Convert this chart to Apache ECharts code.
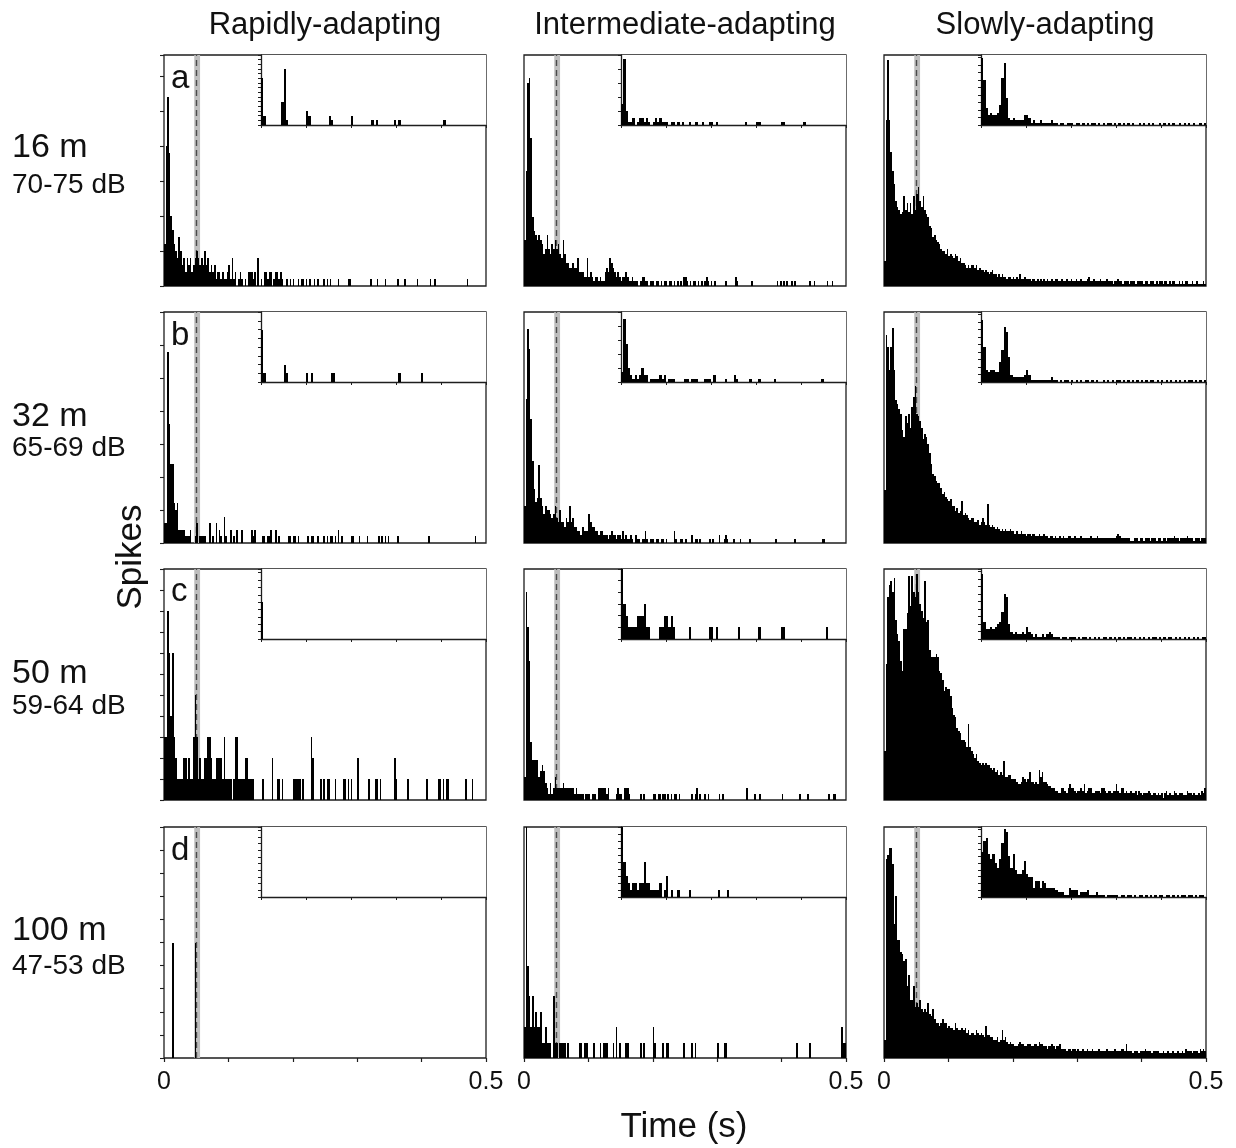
<!DOCTYPE html>
<html>
<head>
<meta charset="utf-8">
<script src="https://cdn.jsdelivr.net/npm/echarts@6/dist/echarts.min.js"></script>
<style>
  html, body { margin: 0; padding: 0; background: #fff; }
  #chart { width: 1236px; height: 1148px; }
</style>
</head>
<body>
<div id="chart"></div>
<script>
// Peri-stimulus time histograms: 3 adaptation classes x 4 recording distances.
// Main panels use 2.5 ms bins over 0-0.5 s; insets use 5 ms bins over 0-0.5 s.
const MAIN_BIN = 0.0025;
const INSET_BIN = 0.005;

const columnTitles = ['Rapidly-adapting', 'Intermediate-adapting', 'Slowly-adapting'];
const rowDistances = ['16 m', '32 m', '50 m', '100 m'];
const rowLevels = ['70-75 dB', '65-69 dB', '59-64 dB', '47-53 dB'];
const panelLetters = ['a', 'b', 'c', 'd'];
const xTickLabels = ['0', '0.5'];
const axisTitleX = 'Time (s)';
const axisTitleY = 'Spikes';

// stimulus marker: shaded window and dashed onset line (s)
const stimBand = [0.047, 0.056];
const stimLine = 0.0518;

// ---- row a (16 m) ----
const aRapid = [
  6,20,27,19,10,8,6,5,4,7, 5,3,4,2,4,3,4,2,3,4,
  5,4,3,4,3,5,3,4,2,3, 2,3,1,2,2,1,2,1,1,2,
  3,1,4,1,2,0,1,2,1,0, 1,0,2,2,2,1,2,0,4,0,
  1,0,2,2,1,2,2,0,1,2, 2,1,2,1,0,0,1,0,1,0,
  1,0,0,1,0,1,1,0,1,0, 1,0,0,1,0,1,0,0,0,1,
  0,1,0,1,0,0,0,0,1,0, 0,0,0,0,1,1,0,0,0,0,
  0,0,0,0,0,0,0,0,1,0, 0,0,1,0,0,0,0,1,0,0,
  0,0,0,0,0,1,0,0,0,1, 0,0,0,0,0,0,0,1,0,0,
  0,0,0,0,0,1,0,0,1,0, 0,0,0,0,0,0,0,0,0,0,
  0,0,0,0,0,0,0,0,1,0, 0,0,0,0,0,0,0,0,0,0
];
const aRapidInset = [[0,10],[1,2],[9,5],[10,12],[11,1],[20,3],[21,2],[30,2],[31,1],[40,2],[49,1],[51,1],[59,1],[61,1],[81,1]];
const aInter = [
  10,25,44,45,32,15,12,11,10,11, 10,9,7,8,11,8,7,9,8,10,
  8,9,7,6,10,7,5,5,4,4, 5,4,4,6,3,3,3,2,2,6,
  2,3,2,1,2,2,1,2,1,1, 3,4,3,6,5,4,3,2,3,2,
  1,2,2,3,2,1,1,2,1,1, 1,0,1,2,2,1,1,0,1,1,
  1,0,1,1,0,1,0,1,1,0, 1,1,0,1,0,1,0,1,0,2,
  2,1,0,1,0,1,1,0,1,0, 1,0,1,2,1,0,1,0,1,0,
  0,0,0,0,0,1,0,0,0,0, 0,2,1,0,0,0,0,0,0,0,
  0,1,0,0,0,0,0,0,0,0, 0,0,0,0,0,0,0,1,0,1,
  0,1,0,1,0,0,1,0,1,0, 0,0,0,0,0,0,0,1,0,0,
  1,0,0,0,0,0,0,0,1,0, 0,1,0,0,0,0,0,0,0,0
];
const aInterInset = [[0,6],[1,19],[2,4],[3,1],[4,1],[5,2],[7,1],[8,2],[9,2],[10,1],[11,2],[12,1],[14,1],[15,2],[16,1],[17,2],[18,1],[19,1],[20,1],[22,1],[23,1],[25,1],[27,1],[30,1],[33,1],[36,1],[39,1],[40,1],[42,1],[55,1],[60,1],[61,1],[71,1],[72,1],[81,1]];
const aSlow = [
  11,72,98,72,58,50,44,37,34,33, 31,32,39,33,36,32,36,31,39,33,
  40,43,37,34,39,33,31,30,26,25, 21,22,20,19,18,16,15,15,14,16,
  13,14,13,12,14,13,11,12,10,10, 9,8,9,8,9,9,8,9,7,8,
  7,7,6,7,6,5,6,7,5,5, 4,5,4,5,4,4,3,4,4,3,
  4,3,4,3,5,3,3,4,3,3, 3,2,3,3,2,3,2,3,2,3,
  2,3,2,2,3,2,3,3,2,2, 3,2,2,3,2,2,3,2,2,3,
  2,2,3,2,2,2,3,4,2,2, 3,2,2,2,3,2,2,2,3,2,
  2,2,1,2,2,3,2,2,1,2, 2,2,1,2,2,2,1,2,2,2,
  2,1,2,2,1,2,2,2,1,2, 1,2,2,1,2,2,1,2,1,2,
  2,1,1,2,1,2,1,2,2,1, 1,2,1,1,2,1,1,1,2,1
];
const aSlowInset = [
  27,18,7,4,5,4,4,5,8,19, 25,11,3,2,3,2,2,2,2,4,
  4,3,1,2,1,1,2,1,1,1, 1,2,1,1,0,1,1,0,1,1,
  1,0,1,1,0,1,0,1,0,1, 1,0,1,0,1,0,1,1,0,1,
  0,1,0,1,0,1,0,1,0,0, 1,0,1,0,1,0,1,0,0,1,
  0,1,0,1,0,1,0,0,1,0, 1,0,1,0,1,0,0,1,0,1
];

// ---- row b (32 m) ----
const bRapid = [
  3,3,29,18,12,12,6,5,6,2, 2,2,2,1,1,1,2,0,0,1,
  3,0,1,1,1,1,0,0,3,0, 1,0,3,0,2,1,0,4,1,0,
  0,2,0,1,0,2,0,0,2,0, 0,0,0,0,2,1,2,0,0,0,
  0,1,1,0,1,1,2,0,0,2, 0,1,0,0,0,0,0,1,1,0,
  1,1,0,1,0,0,0,0,0,1, 0,1,1,0,0,1,0,0,0,1,
  0,1,0,1,1,0,1,0,2,0, 1,0,0,0,0,0,1,1,0,0,
  0,1,0,0,0,0,1,0,0,0, 0,0,0,1,0,1,0,1,0,1,
  0,0,0,0,0,1,0,0,0,0, 0,0,0,0,0,0,0,0,0,0,
  0,0,0,0,1,0,0,0,0,0, 0,0,0,0,0,0,0,0,0,0,
  0,0,0,0,0,0,0,0,0,0, 0,0,0,1,0,0,0,0,0,0
];
const bRapidInset = [[0,6],[1,1],[10,2],[11,1],[20,1],[22,1],[31,1],[32,1],[61,1],[71,1]];
const bInter = [
  9,35,52,47,30,20,13,10,11,19, 11,9,7,9,8,8,7,6,7,9,
  6,5,8,5,5,4,6,5,9,5, 6,4,4,3,3,2,4,3,3,3,
  7,5,4,4,3,3,2,3,3,2, 2,2,1,2,3,2,2,1,2,2,
  1,3,1,2,1,1,2,1,0,2, 1,1,0,1,1,3,1,0,1,1,
  1,0,1,1,0,1,1,0,1,0, 0,0,0,3,1,0,0,1,1,0,
  1,0,0,0,2,0,1,1,0,1, 0,0,0,0,0,1,0,1,0,0,
  0,2,0,0,1,2,1,0,0,0, 1,0,0,0,1,0,0,0,0,0,
  1,0,0,0,0,0,0,0,0,0, 0,0,0,0,0,0,1,0,0,0,
  0,0,0,0,0,0,0,0,1,0, 0,0,0,0,0,0,0,0,0,0,
  0,0,0,0,0,1,1,0,0,0, 0,0,0,0,0,0,0,0,0,0
];
const bInterInset = [
  3,18,11,4,2,1,2,1,2,4, 2,2,0,1,1,1,1,2,1,2,
  0,1,1,1,0,0,0,0,1,1, 0,1,1,1,0,0,0,1,1,1,
  0,2,0,0,0,0,1,0,0,0, 2,1,0,0,0,0,0,1,0,0,
  0,1,0,0,0,0,0,0,1,0, 0,0,0,0,0,0,0,0,0,0,
  0,0,0,0,0,0,0,0,0,1, 0,0,0,0,0,0,0,0,0,0
];
const bSlow = [
  23,90,85,75,85,93,75,62,60,58, 56,49,46,55,52,56,50,59,63,68,
  56,55,53,50,45,47,46,43,39,34, 30,29,27,26,26,24,21,22,20,19,
  18,19,16,16,14,15,13,14,18,12, 13,12,11,10,11,11,9,9,10,8,
  9,11,9,8,17,8,7,8,7,6, 7,6,5,6,5,6,5,5,6,5,
  5,4,5,4,4,5,4,4,3,4, 4,3,4,4,3,3,4,3,3,4,
  3,3,2,3,3,2,3,2,2,3, 2,3,2,2,3,3,2,2,3,2,
  2,2,3,2,2,2,2,2,3,2, 2,2,3,2,2,2,2,2,2,2,
  2,2,2,2,3,4,3,2,2,2, 2,2,2,1,1,2,2,2,1,2,
  2,1,2,2,2,1,2,2,2,1, 2,2,1,2,2,1,2,2,2,2,
  3,2,2,1,2,2,2,2,3,2, 2,2,1,2,2,2,1,2,2,2
];
const bSlowInset = [
  25,14,5,4,5,5,4,4,8,13, 22,20,10,3,2,2,2,2,2,3,
  5,3,1,1,1,1,1,1,1,1, 1,2,1,1,0,1,0,1,1,0,
  1,0,1,0,1,0,1,1,0,1, 0,1,0,0,1,0,1,0,1,0,
  1,1,0,1,0,1,0,1,0,1, 0,1,0,1,0,1,1,0,1,0,
  1,0,1,0,1,0,1,0,1,0, 1,0,1,1,0,1,0,1,0,1
];

// ---- row c (50 m) ----
const cRapid = [
  3,3,9,7,4,7,3,2,1,1, 1,1,2,2,1,2,1,1,3,5,
  3,1,2,1,1,2,2,3,3,2, 1,1,2,2,2,2,1,3,1,1,
  1,1,0,1,3,3,1,1,1,1, 2,2,1,1,1,1,0,0,0,0,
  0,1,0,0,0,0,0,2,0,0, 1,1,0,1,0,0,0,0,0,0,
  1,1,1,1,1,0,1,0,0,0, 0,3,2,0,0,0,0,1,0,1,
  0,1,1,0,0,0,1,0,0,0, 0,1,1,0,1,0,1,0,0,0,
  2,0,0,0,0,0,0,1,0,0, 0,1,1,0,1,0,0,0,0,0,
  0,0,0,2,1,0,0,0,0,0, 0,1,0,0,0,0,0,0,0,0,
  0,0,0,1,0,0,0,0,0,0, 1,1,0,1,0,1,1,0,0,0,
  0,0,0,0,0,0,0,1,0,0, 0,1,0,0,0,0,0,0,0,0
];
const cRapidInset = [[0,5]];
const cInter = [
  4,36,30,24,10,7,7,7,7,4, 5,6,5,3,2,1,3,1,2,4,
  2,2,2,2,3,2,2,2,2,2, 2,1,2,1,1,1,1,0,1,1,
  1,0,1,1,1,0,2,2,2,2, 2,1,2,0,0,0,0,1,2,1,
  1,0,2,2,2,1,0,0,0,0, 0,0,1,0,1,0,0,0,0,0,
  1,1,0,1,1,0,1,1,0,1, 0,1,0,1,1,0,1,0,0,0,
  0,0,0,0,1,0,1,2,0,1, 0,0,1,0,1,0,0,0,0,0,
  0,1,0,1,0,0,0,0,0,0, 0,0,0,0,0,0,0,0,2,0,
  0,0,0,1,0,0,1,0,0,0, 0,0,0,0,0,0,0,0,0,0,
  1,0,0,0,0,0,0,0,0,0, 0,1,0,0,0,0,1,0,0,0,
  0,0,0,0,0,0,0,0,0,1, 0,0,1,1,0,0,0,0,0,0
];
const cInterInset = [[0,6],[1,3],[2,2],[3,1],[4,1],[5,1],[6,1],[7,2],[8,2],[9,2],[10,3],[11,1],[12,1],[17,1],[18,1],[19,2],[20,2],[21,1],[22,2],[23,1],[30,1],[39,1],[40,1],[42,1],[52,1],[61,1],[71,1],[72,1],[91,1]];
const cSlow = [
  21,59,88,93,95,90,96,78,72,69, 60,56,74,74,81,97,84,97,90,88,
  98,90,85,82,79,95,77,78,65,62, 62,62,63,62,56,55,52,47,49,48,
  48,45,40,37,36,31,30,29,26,26, 25,23,33,23,21,20,18,20,17,16,
  15,16,15,16,15,15,14,13,14,12, 13,11,12,11,17,10,10,11,11,9,
  9,9,8,7,7,8,10,9,8,9, 12,8,8,7,8,7,13,10,12,8,
  8,7,6,6,5,5,4,4,3,3, 5,5,4,3,5,7,5,5,4,3,
  4,4,5,4,7,3,4,5,5,3, 3,4,4,4,3,5,5,4,3,4,
  4,3,4,4,7,4,3,5,5,3, 4,3,3,4,3,3,4,2,4,3,
  2,3,3,3,4,3,2,3,3,2, 3,2,3,1,3,4,2,3,2,2,
  4,3,2,3,3,3,2,2,4,3, 3,2,3,2,2,3,2,4,3,5
];
const cSlowInset = [
  26,7,4,4,5,4,5,6,7,11, 18,17,6,3,2,3,2,2,3,2,
  5,3,2,1,2,1,1,2,1,2, 3,2,1,1,1,0,1,1,0,1,
  1,1,0,1,0,1,1,0,1,0, 1,0,1,0,1,1,0,1,0,1,
  0,1,0,1,0,1,1,0,1,0, 1,0,1,0,1,0,1,1,0,1,
  0,1,0,1,1,0,1,0,1,0, 1,0,1,0,1,0,1,0,1,1
];

// ---- row d (100 m) ----
const dRapid = [[5,5],[19,5]];
const dRapidInset = [];
const dInter = [
  2,15,6,4,2,4,2,3,2,2, 3,1,1,2,1,1,1,0,4,1,
  1,0,1,1,1,1,0,1,0,0, 0,0,0,0,1,1,0,1,1,1,
  0,0,0,1,0,0,0,1,0,1, 1,1,0,0,0,1,0,2,0,1,
  0,0,0,1,1,0,0,0,0,0, 0,0,1,0,1,0,0,0,0,0,
  2,1,0,0,0,0,1,0,1,1, 0,0,0,0,0,0,0,0,0,1,
  0,0,0,0,1,0,1,0,0,0, 0,0,0,0,0,0,0,0,0,0,
  1,0,0,0,1,1,0,0,0,0, 0,0,0,0,0,0,0,0,0,0,
  0,0,0,0,0,0,0,0,0,0, 0,0,0,0,0,0,0,0,0,0,
  0,0,0,0,0,0,0,0,0,1, 0,0,0,0,0,0,0,1,0,0,
  0,0,0,0,0,0,0,0,0,0, 0,0,0,0,0,0,0,2,1,1
];
const dInterInset = [[0,10],[1,5],[2,3],[3,2],[4,1],[5,2],[6,2],[7,1],[8,2],[9,2],[10,5],[11,2],[12,2],[13,1],[14,1],[15,1],[16,1],[17,2],[19,1],[20,3],[22,1],[25,1],[30,1],[43,1],[47,1]];
const dSlow = [
  8,86,88,91,91,84,58,70,51,51, 46,45,42,43,31,36,25,25,31,22,
  24,22,25,21,20,21,20,24,19,18, 21,17,15,15,14,15,17,15,15,13,
  14,13,13,12,15,13,12,12,13,12, 13,11,12,10,11,11,10,12,11,10,
  11,10,9,14,10,10,9,9,8,8, 9,7,8,12,8,9,7,6,7,6,
  6,5,5,6,7,6,6,5,5,6, 6,5,5,6,6,5,7,6,6,5,
  5,4,5,5,6,5,4,5,5,6, 4,4,4,3,4,4,3,4,4,3,
  4,3,3,4,3,3,4,3,3,4, 3,3,3,4,3,3,3,3,4,3,
  3,3,3,4,3,3,3,4,4,3, 6,3,3,3,2,3,3,3,2,3,
  3,3,4,3,3,3,2,3,3,3, 3,2,2,3,2,2,3,2,2,3,
  2,2,3,2,2,3,2,4,3,3, 3,2,3,3,3,2,4,3,4,3
];
const dSlowInset = [
  20,25,26,19,17,19,15,13,17,24, 30,29,18,13,19,12,10,10,12,16,
  10,9,9,4,7,7,4,7,6,4, 4,4,4,3,2,2,2,1,1,4,
  3,3,3,1,2,2,2,3,1,1, 1,2,1,1,1,0,1,1,1,1,
  1,0,1,1,0,1,1,0,1,0, 1,1,0,1,0,1,0,1,0,1,
  1,0,1,1,0,1,0,1,0,1, 1,0,1,1,0,1,0,1,1,0
];

const mainData = [
  [aRapid, aInter, aSlow],
  [bRapid, bInter, bSlow],
  [cRapid, cInter, cSlow],
  [dRapid, dInter, dSlow]
];
const insetData = [
  [aRapidInset, aInterInset, aSlowInset],
  [bRapidInset, bInterInset, bSlowInset],
  [cRapidInset, cInterInset, cSlowInset],
  [dRapidInset, dInterInset, dSlowInset]
];
// y-axis scales (spike counts; slowly-adapting panels are on a 0-100 scale)
const mainYMax = [[33, 50, 100], [35, 56, 100], [11, 40, 100], [10, 15, 100]];
const mainYStep = [5, 5, 1, 1];
const insetYMax = [[15, 20, 28], [8, 20, 28], [9.5, 6, 28], [10.5, 10, 31]];
const insetYStep = [[1, 4, 3], [1, 4, 3], [1, 1, 3], [1, 1, 3]];

// ---- layout ----
const FONT = '"Liberation Sans", Arial, Helvetica, sans-serif';
const FRAME = '#1e1e1e';
const colLeft = [164, 524, 884];
const rowTop = [55, 312, 569, 827];
const PW = 322, PH = 231;
const INSET_DX = 97, INSET_H = 70;

// accepts either a dense list of bin counts or [binIndex, count] pairs
function toPoints(src, binWidth) {
  const pts = [];
  if (src.length && Array.isArray(src[0])) {
    src.forEach(([i, v]) => { if (v > 0) pts.push([(i + 0.5) * binWidth, v]); });
  } else {
    src.forEach((v, i) => { if (v > 0) pts.push([(i + 0.5) * binWidth, v]); });
  }
  return pts;
}

// histogram bin drawn as a pixel-aligned rectangle spanning its bin on the time axis,
// so neighbouring bins meet without anti-aliasing seams
function binRenderer(binWidth) {
  return function (params, api) {
    const t = api.value(0), v = api.value(1);
    const p0 = api.coord([t - binWidth / 2, 0]);
    const p1 = api.coord([t + binWidth / 2, v]);
    const x0 = Math.round(p0[0]);
    const x1 = Math.max(x0 + 1, Math.round(p1[0]));
    const yb = Math.round(p0[1]);
    const yt = Math.round(p1[1]);
    return {
      type: 'rect',
      shape: { x: x0, y: yt, width: x1 - x0, height: yb - yt },
      style: { fill: '#000' }
    };
  };
}

const grids = [], xAxes = [], yAxes = [], series = [];

for (let r = 0; r < 4; r++) {
  for (let c = 0; c < 3; c++) {
    const left = colLeft[c], top = rowTop[r];
    const isBottom = r === 3;

    // main histogram
    const gi = grids.length;
    grids.push({ left, top, width: PW, height: PH, show: true,
      borderColor: FRAME, borderWidth: 1.3, backgroundColor: 'transparent' });
    xAxes.push({
      gridIndex: gi, type: 'value', min: 0, max: 0.5, interval: 0.1,
      axisLine: { show: false },
      axisTick: { show: isBottom, inside: false, length: 4, lineStyle: { color: FRAME, width: 1.2 } },
      axisLabel: {
        show: isBottom, margin: 12, fontSize: 25, color: '#111', fontFamily: FONT,
        formatter: v => (Math.abs(v) < 1e-9 ? xTickLabels[0] : (Math.abs(v - 0.5) < 1e-9 ? xTickLabels[1] : ''))
      },
      splitLine: { show: false }
    });
    const yMain = {
      gridIndex: gi, type: 'value', min: 0, max: mainYMax[r][c],
      axisLine: { show: false },
      axisTick: { show: c === 0, inside: false, length: 4, lineStyle: { color: FRAME, width: 1.1 } },
      axisLabel: { show: false }, splitLine: { show: false }
    };
    if (c === 0) yMain.interval = mainYStep[r];
    yAxes.push(yMain);

    // stimulus window behind the histogram bars
    series.push({
      type: 'line', xAxisIndex: gi, yAxisIndex: gi, data: [], z: 1, silent: true,
      markArea: { silent: true, z: 1, itemStyle: { color: '#bdbdbd' },
        data: [[{ xAxis: stimBand[0] }, { xAxis: stimBand[1] }]] },
      markLine: { silent: true, z: 1, symbol: ['none', 'none'], label: { show: false },
        lineStyle: { color: '#4a4a4a', width: 1.4, type: [6, 4] },
        data: [{ xAxis: stimLine }] }
    });
    series.push({
      type: 'custom', xAxisIndex: gi, yAxisIndex: gi, z: 2, silent: true, clip: true,
      renderItem: binRenderer(MAIN_BIN),
      encode: { x: 0, y: 1 },
      data: toPoints(mainData[r][c], MAIN_BIN)
    });

    // inset histogram
    const ii = grids.length;
    grids.push({ left: left + INSET_DX, top, width: PW - INSET_DX, height: INSET_H,
      show: true, backgroundColor: '#fff', borderWidth: 0 });
    xAxes.push({
      gridIndex: ii, type: 'value', min: 0, max: 0.5, interval: 0.1,
      axisLine: { show: true, onZero: false, lineStyle: { color: FRAME, width: 1.3 } },
      axisTick: { show: true, inside: false, length: 3, lineStyle: { color: FRAME, width: 1 } },
      axisLabel: { show: false }, splitLine: { show: false }
    });
    yAxes.push({
      gridIndex: ii, type: 'value', min: 0, max: insetYMax[r][c], interval: insetYStep[r][c],
      axisLine: { show: true, lineStyle: { color: FRAME, width: 1.3 } },
      axisTick: { show: true, inside: false, length: 3, lineStyle: { color: FRAME, width: 1 } },
      axisLabel: { show: false }, splitLine: { show: false }
    });
    series.push({
      type: 'custom', xAxisIndex: ii, yAxisIndex: ii, z: 3, silent: true, clip: true,
      renderItem: binRenderer(INSET_BIN),
      encode: { x: 0, y: 1 },
      data: toPoints(insetData[r][c], INSET_BIN)
    });
  }
}

// ---- text ----
function txt(text, x, y, size, align, extra) {
  return Object.assign({
    type: 'text', x, y, silent: true,
    style: { text, fill: '#111', font: size + 'px ' + FONT, fontSize: size, fontFamily: FONT,
      align, textAlign: align, verticalAlign: 'middle', textVerticalAlign: 'middle' }
  }, extra || {});
}
const graphics = [];
columnTitles.forEach((t, c) => graphics.push(txt(t, colLeft[c] + PW / 2, 25, 31, 'center')));
const distY = [148, 417, 674, 931];
const levelY = [185, 448, 706, 966];
rowDistances.forEach((t, r) => graphics.push(txt(t, 12, distY[r], 34, 'left')));
rowLevels.forEach((t, r) => graphics.push(txt(t, 12, levelY[r], 28, 'left')));
const letterY = [79, 336, 592, 851];
panelLetters.forEach((t, r) => graphics.push(txt(t, 171, letterY[r], 33, 'left')));
graphics.push(txt(axisTitleY, 131, 557, 35, 'center', { rotation: Math.PI / 2 }));
graphics.push(txt(axisTitleX, 684, 1127, 35, 'center'));

const chart = echarts.init(document.getElementById('chart'), null, { renderer: 'canvas' });
chart.setOption({
  animation: false,
  backgroundColor: '#fff',
  grid: grids,
  xAxis: xAxes,
  yAxis: yAxes,
  series,
  graphic: graphics
});
</script>
</body>
</html>
